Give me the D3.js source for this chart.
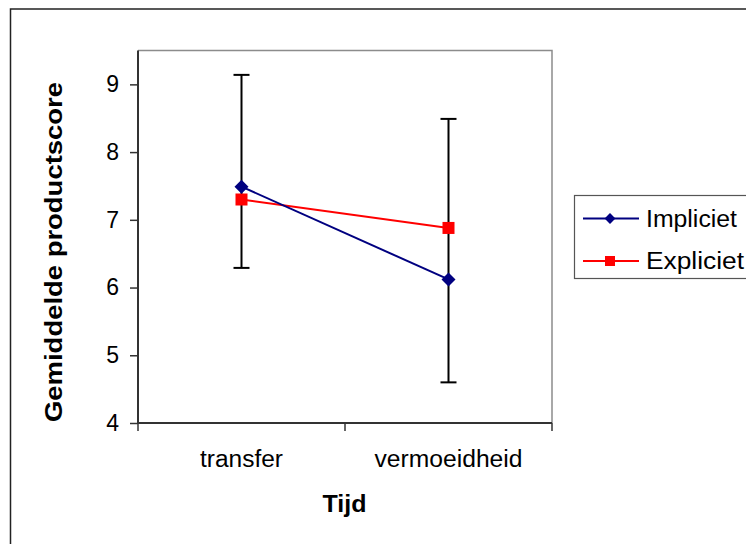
<!DOCTYPE html>
<html>
<head>
<meta charset="utf-8">
<script src="https://cdn.jsdelivr.net/npm/d3@7"></script>
<style>
  body { margin: 0; background: #fff; }
  text { font-family: Arial, "Liberation Sans", sans-serif; }
</style>
</head>
<body>
<svg id="chart" width="746" height="544"></svg>
<script>
// data
const categories = ["transfer", "vermoeidheid"];
const impliciet = [7.49, 6.12];
const expliciet = [7.30, 6.88];
const errLow = [6.29, 4.60];
const errHigh = [9.14, 8.49];
const yTicks = [4, 5, 6, 7, 8, 9];
const seriesNames = ["Impliciet", "Expliciet"];

const svg = d3.select("#chart");

// outer chart border (runs off right and bottom)
svg.append("rect")
  .attr("x", 10.5).attr("y", 9)
  .attr("width", 760).attr("height", 560)
  .attr("fill", "#fff")
  .attr("stroke", "#222")
  .attr("stroke-width", 1.5);

const plot = { left: 138, right: 552, top: 50.5, bottom: 423 };

const x = d3.scalePoint().domain(categories).range([plot.left, plot.right]).padding(0.5);
const y = d3.scaleLinear().domain([4, 9.5]).range([plot.bottom, plot.top]);

// plot area border (top + right grey)
svg.append("path")
  .attr("d", `M${plot.left},${plot.top}H${plot.right}V${plot.bottom}`)
  .attr("fill", "none")
  .attr("stroke", "#8c8c8c")
  .attr("stroke-width", 1.5);

// y axis
const yAxis = d3.axisLeft(y).tickValues(yTicks).tickSize(8).tickPadding(11).tickFormat(d3.format("d"));
const gy = svg.append("g").attr("transform", `translate(${plot.left},0)`).call(yAxis);
gy.select(".domain").attr("stroke", "#333").attr("stroke-width", 2)
  .attr("d", `M0,${plot.top}V${plot.bottom}`);
gy.selectAll(".tick line").attr("stroke", "#333").attr("stroke-width", 1.5);
gy.selectAll(".tick text").attr("font-size", 23).attr("fill", "#000")
  .attr("font-family", "Arial, 'Liberation Sans', sans-serif");

// x axis: ticks between categories
const step = x.step();
const xTickPos = [plot.left, plot.left + step, plot.right];
const gx = svg.append("g").attr("transform", `translate(0,${plot.bottom})`);
gx.append("line").attr("x1", plot.left).attr("x2", plot.right)
  .attr("stroke", "#333").attr("stroke-width", 2);
gx.selectAll("line.tk").data(xTickPos).join("line").attr("class", "tk")
  .attr("x1", d => d).attr("x2", d => d).attr("y1", 0).attr("y2", 8)
  .attr("stroke", "#333").attr("stroke-width", 1.5);
const xLabelLen = [83, 148];
gx.selectAll("text").data(categories).join("text")
  .attr("x", d => x(d)).attr("y", 44)
  .attr("text-anchor", "middle")
  .attr("font-size", 23)
  .attr("textLength", (d, i) => xLabelLen[i])
  .attr("lengthAdjust", "spacingAndGlyphs")
  .text(d => d);

// axis titles
svg.append("text")
  .attr("x", 344.5).attr("y", 512)
  .attr("text-anchor", "middle")
  .attr("font-size", 24).attr("font-weight", "bold")
  .attr("textLength", 44).attr("lengthAdjust", "spacingAndGlyphs")
  .text("Tijd");

svg.append("text")
  .attr("transform", "translate(62,252) rotate(-90)")
  .attr("text-anchor", "middle")
  .attr("font-size", 23).attr("font-weight", "bold")
  .attr("textLength", 340).attr("lengthAdjust", "spacingAndGlyphs")
  .text("Gemiddelde productscore");

// error bars
const eb = svg.append("g").attr("stroke", "#000").attr("stroke-width", 2);
categories.forEach((c, i) => {
  eb.append("line").attr("x1", x(c)).attr("x2", x(c)).attr("y1", y(errLow[i])).attr("y2", y(errHigh[i]));
  eb.append("line").attr("x1", x(c) - 8).attr("x2", x(c) + 8).attr("y1", y(errLow[i])).attr("y2", y(errLow[i]));
  eb.append("line").attr("x1", x(c) - 8).attr("x2", x(c) + 8).attr("y1", y(errHigh[i])).attr("y2", y(errHigh[i]));
});

// series
const line = d3.line().x((d, i) => x(categories[i])).y(d => y(d));
const blue = "#000080", red = "#ff0000";

svg.append("path").datum(expliciet).attr("d", line)
  .attr("fill", "none").attr("stroke", red).attr("stroke-width", 2);
svg.append("path").datum(impliciet).attr("d", line)
  .attr("fill", "none").attr("stroke", blue).attr("stroke-width", 2);

svg.selectAll("rect.sq").data(expliciet).join("rect").attr("class", "sq")
  .attr("x", (d, i) => x(categories[i]) - 6).attr("y", d => y(d) - 6)
  .attr("width", 12).attr("height", 12).attr("fill", red);

const diamond = d3.symbol().type(d3.symbolDiamond2).size(125);
svg.selectAll("path.dm").data(impliciet).join("path").attr("class", "dm")
  .attr("transform", (d, i) => `translate(${x(categories[i])},${y(d)})`)
  .attr("d", diamond).attr("fill", blue);

// legend
const lg = svg.append("g");
lg.append("rect").attr("x", 574.5).attr("y", 195.5).attr("width", 200).attr("height", 83)
  .attr("fill", "#fff").attr("stroke", "#555").attr("stroke-width", 1.2);
const rows = [218.5, 261];
const colors = [blue, red];
const legendLen = [91, 98];
seriesNames.forEach((name, i) => {
  const yy = rows[i];
  lg.append("line").attr("x1", 583).attr("x2", 639).attr("y1", yy).attr("y2", yy)
    .attr("stroke", colors[i]).attr("stroke-width", 2);
  if (i === 0) {
    lg.append("path").attr("transform", `translate(610,${yy})`)
      .attr("d", d3.symbol().type(d3.symbolDiamond2).size(75)).attr("fill", blue);
  } else {
    lg.append("rect").attr("x", 605).attr("y", yy - 5).attr("width", 10).attr("height", 10).attr("fill", red);
  }
  lg.append("text").attr("x", 646).attr("y", yy + 8)
    .attr("font-size", 23)
    .attr("textLength", legendLen[i]).attr("lengthAdjust", "spacingAndGlyphs")
    .text(name);
});
</script>
</body>
</html>
